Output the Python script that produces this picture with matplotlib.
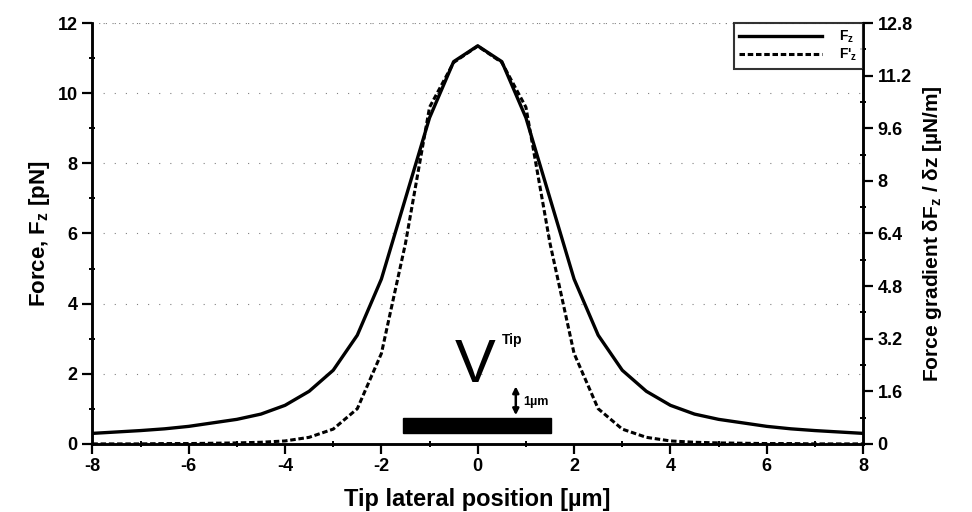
import matplotlib
matplotlib.use('Agg')
import matplotlib.pyplot as plt
from matplotlib.patches import Rectangle
import numpy as np

plt.rcParams['font.family'] = ['Liberation Sans', 'DejaVu Sans']
plt.rcParams['font.weight'] = 'bold'
plt.rcParams['axes.labelweight'] = 'bold'
plt.rcParams['mathtext.default'] = 'bf'
plt.rcParams['mathtext.fontset'] = 'custom'
plt.rcParams['mathtext.bf'] = 'Liberation Sans:bold'
plt.rcParams['axes.unicode_minus'] = False

# half profile, x = 0 .. 8 in 0.5 steps (curves are symmetric)
x_half = [0, 0.5, 1, 1.5, 2, 2.5, 3, 3.5, 4, 4.5, 5, 5.5, 6, 6.5, 7, 7.5, 8]
force_half = [11.35, 10.9, 9.3, 7.0, 4.7, 3.1, 2.1, 1.5, 1.1, 0.85, 0.7,
              0.6, 0.5, 0.43, 0.38, 0.34, 0.3]
grad_half = [12.1, 11.6, 10.24, 6.1, 2.75, 1.07, 0.45, 0.2, 0.09, 0.05,
             0.03, 0.02, 0.01, 0.01, 0.0, 0.0, 0.0]

x = np.concatenate([-np.array(x_half[:0:-1]), x_half])
force = np.concatenate([force_half[:0:-1], force_half])
grad = np.concatenate([grad_half[:0:-1], grad_half])

left_ticks = [0, 2, 4, 6, 8, 10, 12]
right_ticks = [0, 1.6, 3.2, 4.8, 6.4, 8, 9.6, 11.2, 12.8]
right_labels = ['0', '1.6', '3.2', '4.8', '6.4', '8', '9.6', '11.2', '12.8']
x_ticks = [-8, -6, -4, -2, 0, 2, 4, 6, 8]

fig = plt.figure(figsize=(9.72, 5.12), dpi=100)
ax = fig.add_axes([0.095, 0.133, 0.793, 0.822])
ax2 = ax.twinx()

l1, = ax.plot(x, force, color='black', lw=2.4, label='F$_z$')
l2, = ax2.plot(x, grad, color='black', lw=2.2, linestyle=(0, (1.8, 0.9)),
               label="F'$_z$")

ax.set_xlim(-8, 8)
ax.set_ylim(0, 12)
ax2.set_ylim(0, 12.8)

ax.set_xticks(x_ticks)
ax.set_xticks(np.arange(-7, 8, 2), minor=True)
ax.set_yticks(left_ticks)
ax.set_yticks(np.arange(1, 12, 2), minor=True)
ax2.set_yticks(right_ticks)
ax2.set_yticklabels(right_labels)
ax2.set_yticks(np.arange(0.8, 12.8, 1.6), minor=True)

for a in (ax, ax2):
    a.spines['top'].set_visible(False)
    for s in a.spines.values():
        s.set_linewidth(1.8)
    a.tick_params(which='major', direction='out', length=7, width=1.6,
                  labelsize=13)
    a.tick_params(which='minor', direction='inout', length=5, width=1.4)

ax.yaxis.grid(True, color='gray', linestyle=(0, (1, 9)), lw=0.8)
ax.axhline(12, color='gray', linestyle=(0, (1, 5)), lw=0.8)

ax.set_xlabel('Tip lateral position [µm]', fontsize=17, labelpad=9)
ax.set_ylabel('Force, F$_z$ [pN]', fontsize=16, labelpad=4)
ax2.set_ylabel('Force gradient δF$_z$ / δz [µN/m]', fontsize=15,
               labelpad=6)

leg = ax2.legend(handles=[l1, l2], loc='upper right', fontsize=10,
                 frameon=True, fancybox=False, edgecolor='black',
                 handlelength=6, borderaxespad=0, borderpad=0.4,
                 labelspacing=0.15, handletextpad=1.2)
leg.get_frame().set_linewidth(1.5)

# tip / sample sketch
bar_x0, bar_x1, bar_y0, bar_y1 = -1.56, 1.52, 0.31, 0.74
ax.add_patch(Rectangle((bar_x0, bar_y0), bar_x1 - bar_x0, bar_y1 - bar_y0,
                       color='black', zorder=3))
ax.text(-0.05, 2.2, 'V', fontsize=44, fontweight='normal', ha='center',
        va='center')
ax.text(0.5, 2.95, 'Tip', fontsize=10, ha='left', va='center')
ax.annotate('', xy=(0.79, 1.72), xytext=(0.79, 0.74),
            arrowprops=dict(arrowstyle='<|-|>', color='black', lw=1.8,
                            mutation_scale=9))
ax.text(0.95, 1.2, '1µm', fontsize=9, ha='left', va='center')

fig.savefig('out.png', dpi=100)
